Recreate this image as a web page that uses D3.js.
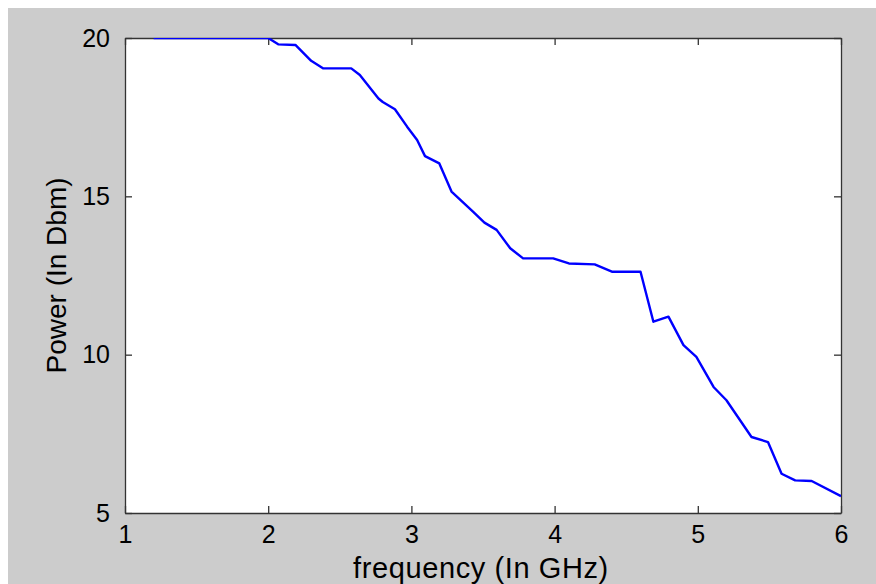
<!DOCTYPE html>
<html>
<head>
<meta charset="utf-8">
<script src="https://cdn.jsdelivr.net/npm/d3@7"></script>
<style>
html,body{margin:0;padding:0;background:#ffffff;}
svg{display:block;}
</style>
</head>
<body>
<svg id="chart" width="876" height="584"></svg>
<script>
const freq = [1.2, 2.0, 2.07, 2.19, 2.30, 2.385, 2.58, 2.64, 2.77, 2.80, 2.885, 2.97, 3.04, 3.095, 3.195, 3.28, 3.43, 3.51, 3.595, 3.69, 3.78, 3.99, 4.10, 4.28, 4.40, 4.60, 4.69, 4.795, 4.90, 4.99, 5.11, 5.20, 5.375, 5.49, 5.585, 5.68, 5.795, 6.0];
const power = [20, 20, 19.8, 19.78, 19.28, 19.04, 19.04, 18.83, 18.09, 17.98, 17.75, 17.2, 16.78, 16.27, 16.04, 15.15, 14.52, 14.17, 13.94, 13.36, 13.04, 13.04, 12.88, 12.85, 12.62, 12.62, 11.04, 11.2, 10.3, 9.93, 8.98, 8.56, 7.40, 7.24, 6.24, 6.03, 6.01, 5.53];
const xTicks = [1, 2, 3, 4, 5, 6];
const yTicks = [5, 10, 15, 20];
const xLabel = "frequency (In GHz)";
const yLabel = "Power (In Dbm)";

const svg = d3.select("#chart");
const W = 876, H = 584;
const L = 125, R = 841, T = 38, B = 513;
const font = "'Liberation Sans', Arial, sans-serif";
const axisColor = "#333333";

// figure background
svg.append("rect").attr("x", 8).attr("y", 8).attr("width", W - 8).attr("height", H - 8).attr("fill", "#cccccc");
svg.append("rect").attr("x", L).attr("y", T).attr("width", R - L).attr("height", B - T).attr("fill", "#ffffff");

const x = d3.scaleLinear().domain([1, 6]).range([L, R]);
const y = d3.scaleLinear().domain([5, 20]).range([B, T]);

const tickLen = 7;
function styleAxis(g) {
  g.select(".domain").attr("stroke", axisColor).attr("stroke-width", 1.3);
  g.selectAll(".tick line").attr("stroke", axisColor).attr("stroke-width", 1.3);
  g.selectAll(".tick text").attr("fill", "#000").style("font-family", font).style("font-size", "25px");
}

// bottom
const gB = svg.append("g").attr("transform", `translate(0,${B})`)
  .call(d3.axisBottom(x).tickValues(xTicks).tickFormat(d3.format("d")).tickSizeInner(-tickLen).tickSizeOuter(0).tickPadding(12));
styleAxis(gB);
// top
const gT = svg.append("g").attr("transform", `translate(0,${T})`)
  .call(d3.axisTop(x).tickValues(xTicks).tickFormat("").tickSizeInner(-tickLen).tickSizeOuter(0));
styleAxis(gT);
// left
const gL = svg.append("g").attr("transform", `translate(${L},0)`)
  .call(d3.axisLeft(y).tickValues(yTicks).tickFormat(d3.format("d")).tickSizeInner(-tickLen).tickSizeOuter(0).tickPadding(15));
styleAxis(gL);
// right
const gR = svg.append("g").attr("transform", `translate(${R},0)`)
  .call(d3.axisRight(y).tickValues(yTicks).tickFormat("").tickSizeInner(-tickLen).tickSizeOuter(0));
styleAxis(gR);

// clip
svg.append("clipPath").attr("id", "clip").append("rect")
  .attr("x", L).attr("y", T).attr("width", R - L).attr("height", B - T);

const pts = freq.map((f, i) => [f, power[i]]);
const line = d3.line().x(d => x(d[0])).y(d => y(d[1]));
svg.append("path").datum(pts)
  .attr("clip-path", "url(#clip)")
  .attr("d", line)
  .attr("fill", "none")
  .attr("stroke", "#0000ff")
  .attr("stroke-width", 2.4)
  .attr("stroke-linejoin", "round");

// axis labels
svg.append("text").attr("x", (L + R) / 2 - 2).attr("y", 578)
  .attr("text-anchor", "middle").style("font-family", font).style("font-size", "29px")
  .style("letter-spacing", "0.6px").attr("fill", "#000")
  .text(xLabel);
svg.append("text").attr("transform", `translate(66,${(T + B) / 2}) rotate(-90)`)
  .attr("text-anchor", "middle").style("font-family", font).style("font-size", "28px").attr("fill", "#000")
  .text(yLabel);
</script>
</body>
</html>
